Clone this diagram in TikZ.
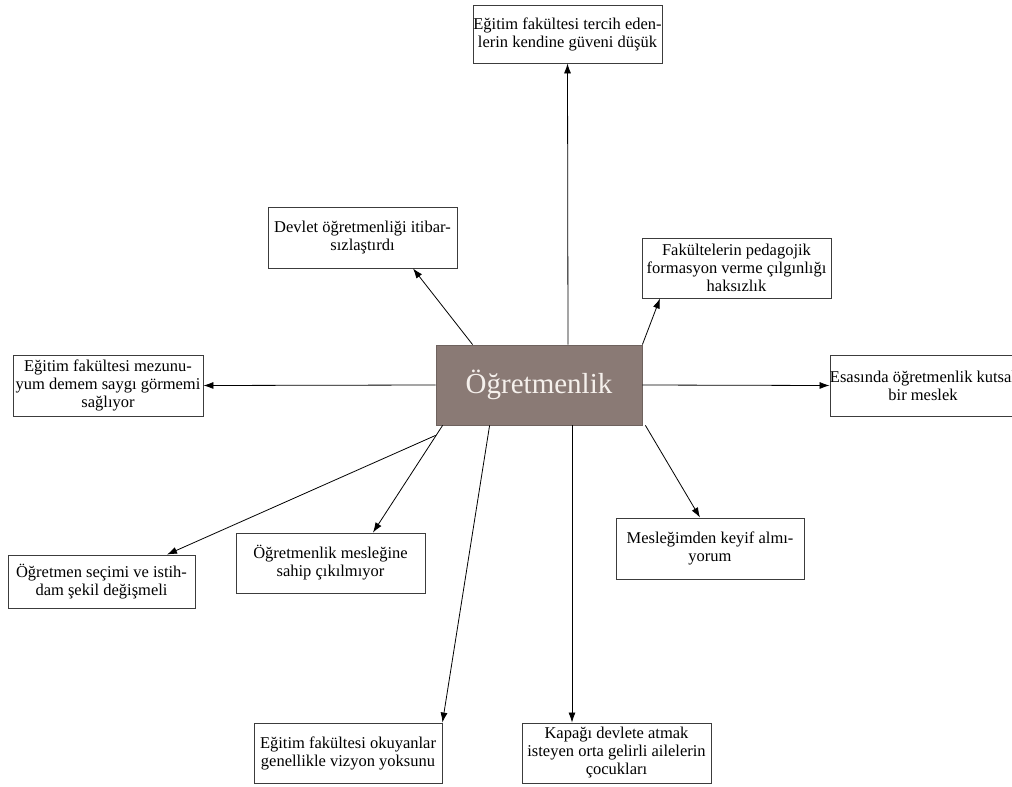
\documentclass[tikz,border=0pt]{standalone}
\usepackage{fontspec}
\setmainfont{Liberation Serif}
\usetikzlibrary{arrows.meta}
\definecolor{centerfill}{RGB}{138,122,117}
\definecolor{centertext}{RGB}{245,240,236}
\definecolor{boxline}{RGB}{60,60,60}
\begin{document}
\begin{tikzpicture}[x=1pt,y=-1pt,
  textbox/.style={draw=boxline,line width=0.9pt,fill=white,align=center,inner sep=0pt,
    font=\fontsize{16.5}{18}\selectfont},
  link/.style={draw=black,line width=0.8pt,-{Latex[length=10pt,width=7pt]}}]
\useasboundingbox (0,0) rectangle (1012,787);
\fill[white] (0,0) rectangle (1012,787);
\begin{scope}
\clip (0,0) rectangle (1012,787);
\node[draw=centerfill!80!black,fill=centerfill,line width=0.8pt,minimum width=206pt,minimum height=80pt,inner sep=0pt,
  text=centertext,font=\fontsize{29}{33}\selectfont] (c) at (539,385) {Öğretmenlik};

\node[textbox,minimum width=189pt,minimum height=58pt] (tb) at (567.5,34) {Eğitim fakültesi tercih eden-\\lerin kendine güveni düşük};
\node[textbox,minimum width=189pt,minimum height=61pt] (dv) at (362.5,237.5) {Devlet öğretmenliği itibar-\\sızlaştırdı};
\node[textbox,minimum width=189pt,minimum height=60pt] (fk) at (736.5,268) {Fakültelerin pedagojik\\formasyon verme çılgınlığı\\haksızlık};
\node[textbox,minimum width=190pt,minimum height=61pt] (mz) at (108,385.5) {Eğitim fakültesi mezunu-\\yum demem saygı görmemi\\sağlıyor};
\node[textbox,minimum width=182pt,minimum height=61pt] (es) at (923,385.5) {Esasında öğretmenlik kutsal\\bir meslek};
\node[textbox,minimum width=187pt,minimum height=53pt] (sc) at (101.5,581.5) {Öğretmen seçimi ve istih-\\dam şekil değişmeli};
\node[textbox,minimum width=189pt,minimum height=60pt] (ms) at (330.5,563) {Öğretmenlik mesleğine\\sahip çıkılmıyor};
\node[textbox,minimum width=188pt,minimum height=61pt] (mk) at (710,548.5) {Mesleğimden keyif almı-\\yorum};
\node[textbox,minimum width=188pt,minimum height=60pt] (ok) at (348,753) {Eğitim fakültesi okuyanlar\\genellikle vizyon yoksunu};
\node[textbox,minimum width=189pt,minimum height=60pt] (kp) at (616.5,753) {Kapağı devlete atmak\\isteyen orta gelirli ailelerin\\çocukları};

% connectors
\draw[link] ([xshift=29pt]c.north) -- ([xshift=0pt]tb.south);
\draw[link] ([xshift=37pt]c.north west) -- ([xshift=50.5pt]dv.south);
\draw[link] (c.north east) -- ([xshift=-76.5pt]fk.south);
\draw[link] (c.west) -- (mz.east);
\draw[link] (c.east) -- (es.west);
\draw[link] ([yshift=-10pt]c.south west) -- ([xshift=65.5pt]sc.north);
\draw[link] ([xshift=7pt]c.south west) -- ([xshift=42.5pt]ms.north);
\draw[link] ([xshift=54pt]c.south west) -- (ok.north east);
\draw[link] ([xshift=33pt]c.south) -- ([xshift=-44.5pt]kp.north);
\draw[link] ([xshift=3pt]c.south east) -- ([xshift=-10pt]mk.north);
\end{scope}
\end{tikzpicture}
\end{document}
